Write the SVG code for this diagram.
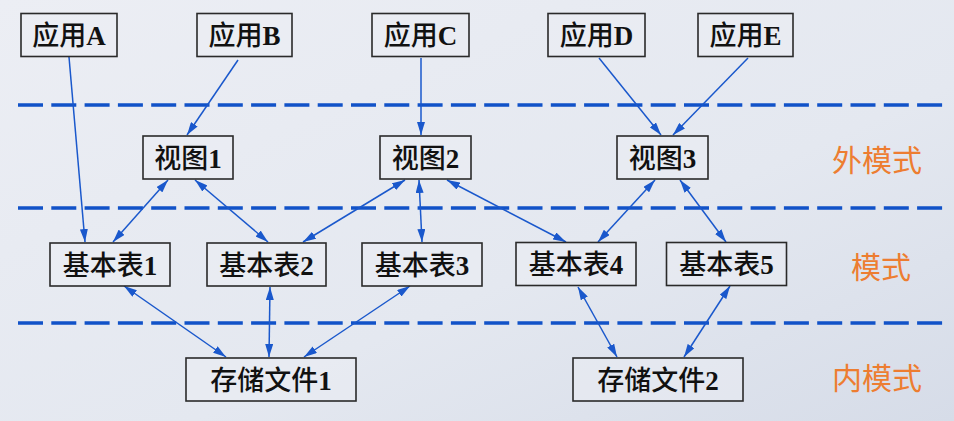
<svg xmlns="http://www.w3.org/2000/svg" width="954" height="421" viewBox="0 0 954 421">
<defs>
<linearGradient id="bg" x1="0" y1="0" x2="1" y2="1">
<stop offset="0" stop-color="#eceef4"/>
<stop offset="0.6" stop-color="#e4e8f0"/>
<stop offset="1" stop-color="#d6dce8"/>
</linearGradient>
<marker id="ah" viewBox="0 0 13 8" refX="13" refY="4" markerWidth="13" markerHeight="8" markerUnits="userSpaceOnUse" orient="auto-start-reverse">
<path d="M0,0 L13,4 L0,8 z" fill="#1a58cc"/>
</marker>
</defs>
<style>
.box{fill:#eceef4;fill-opacity:0.5;stroke:#2a2a2a;stroke-width:1.6}
.t{font-family:"Noto Sans CJK SC","Noto Sans",sans-serif;font-size:27px;font-weight:500;fill:#111;text-anchor:middle}
.lat{font-family:"Liberation Serif","Noto Sans CJK SC",serif;font-weight:bold}
.lvl{font-family:"Noto Sans CJK SC","Noto Sans",sans-serif;font-size:30px;fill:#ed7d31;text-anchor:middle}
.dash{stroke:#1152c8;stroke-width:3.5;stroke-dasharray:25 8.3;fill:none}
.c{stroke:#1a58cc;stroke-width:1.5;fill:none}
.one{marker-end:url(#ah)}
.two{marker-start:url(#ah);marker-end:url(#ah)}
</style>
<rect width="954" height="421" fill="url(#bg)"/>
<g id="levels">
<line class="dash" x1="18" y1="105" x2="944" y2="105"/>
<line class="dash" x1="18" y1="208" x2="944" y2="208"/>
<line class="dash" x1="18" y1="323" x2="944" y2="323"/>
<text class="lvl" x="877" y="171">外模式</text>
<text class="lvl" x="881" y="278">模式</text>
<text class="lvl" x="877" y="389">内模式</text>
</g>
<g id="connectors">
<line class="c one" x1="69" y1="57" x2="85" y2="242"/>
<line class="c one" x1="238" y1="60" x2="187" y2="135"/>
<line class="c one" x1="421" y1="58" x2="421" y2="135"/>
<line class="c one" x1="599" y1="58" x2="661" y2="135"/>
<line class="c one" x1="748" y1="58" x2="673" y2="135"/>
<line class="c two" x1="168" y1="180" x2="113" y2="242"/>
<line class="c two" x1="195" y1="180" x2="268" y2="242"/>
<line class="c two" x1="405" y1="180" x2="303" y2="242"/>
<line class="c two" x1="419" y1="180" x2="422" y2="242"/>
<line class="c two" x1="447" y1="180" x2="566" y2="242"/>
<line class="c two" x1="655" y1="180" x2="598" y2="242"/>
<line class="c two" x1="680" y1="180" x2="726" y2="242"/>
<line class="c two" x1="124" y1="286" x2="226" y2="357"/>
<line class="c two" x1="270" y1="287" x2="269" y2="357"/>
<line class="c two" x1="410" y1="286" x2="304" y2="357"/>
<line class="c two" x1="578" y1="287" x2="617" y2="357"/>
<line class="c two" x1="730" y1="286" x2="684" y2="357"/>
</g>
<g id="appA"><rect class="box" x="21" y="13.5" width="96" height="43"/><text class="t" x="69" y="45">应用<tspan class="lat">A</tspan></text></g>
<g id="appB"><rect class="box" x="197" y="13.5" width="95" height="43"/><text class="t" x="244.5" y="45">应用<tspan class="lat">B</tspan></text></g>
<g id="appC"><rect class="box" x="372" y="13.5" width="97" height="43"/><text class="t" x="420.5" y="45">应用<tspan class="lat">C</tspan></text></g>
<g id="appD"><rect class="box" x="548" y="13.5" width="97" height="43"/><text class="t" x="596.5" y="45">应用<tspan class="lat">D</tspan></text></g>
<g id="appE"><rect class="box" x="698" y="13.5" width="95" height="43"/><text class="t" x="745.5" y="45">应用<tspan class="lat">E</tspan></text></g>
<g id="view1"><rect class="box" x="143" y="136" width="90" height="43"/><text class="t" x="188" y="167.5">视图<tspan class="lat">1</tspan></text></g>
<g id="view2"><rect class="box" x="380" y="136" width="91" height="43"/><text class="t" x="425.5" y="167.5">视图<tspan class="lat">2</tspan></text></g>
<g id="view3"><rect class="box" x="617" y="136" width="91" height="43"/><text class="t" x="662.5" y="167.5">视图<tspan class="lat">3</tspan></text></g>
<g id="table1"><rect class="box" x="50" y="243" width="120" height="43"/><text class="t" x="110" y="274.5">基本表<tspan class="lat">1</tspan></text></g>
<g id="table2"><rect class="box" x="207" y="243" width="119" height="43"/><text class="t" x="266.5" y="274.5">基本表<tspan class="lat">2</tspan></text></g>
<g id="table3"><rect class="box" x="362" y="243" width="120" height="43"/><text class="t" x="422" y="274.5">基本表<tspan class="lat">3</tspan></text></g>
<g id="table4"><rect class="box" x="516" y="242.5" width="120" height="43"/><text class="t" x="576" y="274">基本表<tspan class="lat">4</tspan></text></g>
<g id="table5"><rect class="box" x="666.5" y="242.5" width="120" height="43"/><text class="t" x="726.5" y="274">基本表<tspan class="lat">5</tspan></text></g>
<g id="store1"><rect class="box" x="186" y="358" width="170" height="43"/><text class="t" x="271" y="389.5">存储文件<tspan class="lat">1</tspan></text></g>
<g id="store2"><rect class="box" x="573" y="358" width="170" height="43"/><text class="t" x="658" y="389.5">存储文件<tspan class="lat">2</tspan></text></g>
</svg>
